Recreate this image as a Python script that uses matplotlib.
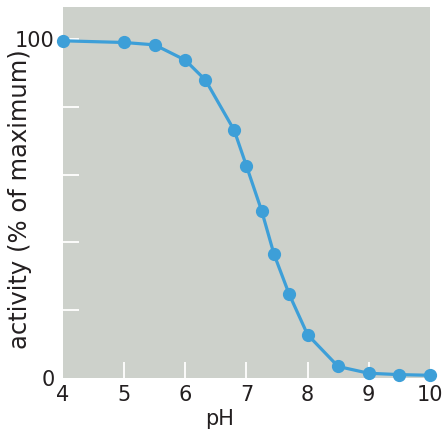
import matplotlib
matplotlib.use("Agg")
import matplotlib.pyplot as plt

# pH vs enzyme activity (% of maximum)
ph = [4.0, 5.0, 5.5, 6.0, 6.33, 6.8, 7.0, 7.25, 7.45, 7.7, 8.0, 8.5, 9.0, 9.5, 10.0]
activity = [99.5, 99.0, 98.3, 93.8, 87.9, 73.1, 62.6, 49.3, 36.6, 24.7, 12.8, 3.4, 1.4, 1.0, 0.8]

x_ticks = [4, 5, 6, 7, 8, 9, 10]
x_inner = [5, 6, 7, 8, 9]
y_labels = [0, 100]
y_inner = [20, 40, 60, 80, 100]

plt.rcParams["font.family"] = ["DejaVu Sans"]
text_col = "#231f20"
bg_col = "#cdd1cb"
blue = "#3d9fd8"

fig = plt.figure(figsize=(4.44, 4.32), dpi=100)
ax = fig.add_axes([0.142, 0.125, 0.826, 0.859])
ax.set_facecolor(bg_col)
for s in ax.spines.values():
    s.set_visible(False)

ax.plot(ph, activity, color=blue, lw=2.3, marker="o", ms=8.5,
        clip_on=False, zorder=3)

ax.set_xlim(4, 10)
ax.set_ylim(0, 109.5)

# white inner ticks sit on the same spots as some labelled ticks
ax.xaxis.remove_overlapping_locs = False
ax.yaxis.remove_overlapping_locs = False

ax.set_xticks(x_ticks)
ax.set_xticklabels([str(v) for v in x_ticks])
ax.set_xticks(x_inner, minor=True)
ax.set_yticks(y_labels)
ax.set_yticklabels([str(v) for v in y_labels])
ax.set_yticks(y_inner, minor=True)

ax.tick_params(axis="both", which="major", length=0, labelsize=15,
               labelcolor=text_col)
ax.tick_params(axis="x", which="major", pad=5)
ax.tick_params(axis="y", which="major", pad=6)
ax.tick_params(axis="both", which="minor", direction="in", length=11.5,
               width=1.3, color="white")

ax.set_xlabel("pH", fontsize=15, color=text_col)
ax.xaxis.set_label_coords(0.428, -0.083)
ax.set_ylabel("activity (% of maximum)", fontsize=17.5, color=text_col)
ax.yaxis.set_label_coords(-0.085, 0.483)

fig.savefig("out.png", dpi=100, facecolor="white")
